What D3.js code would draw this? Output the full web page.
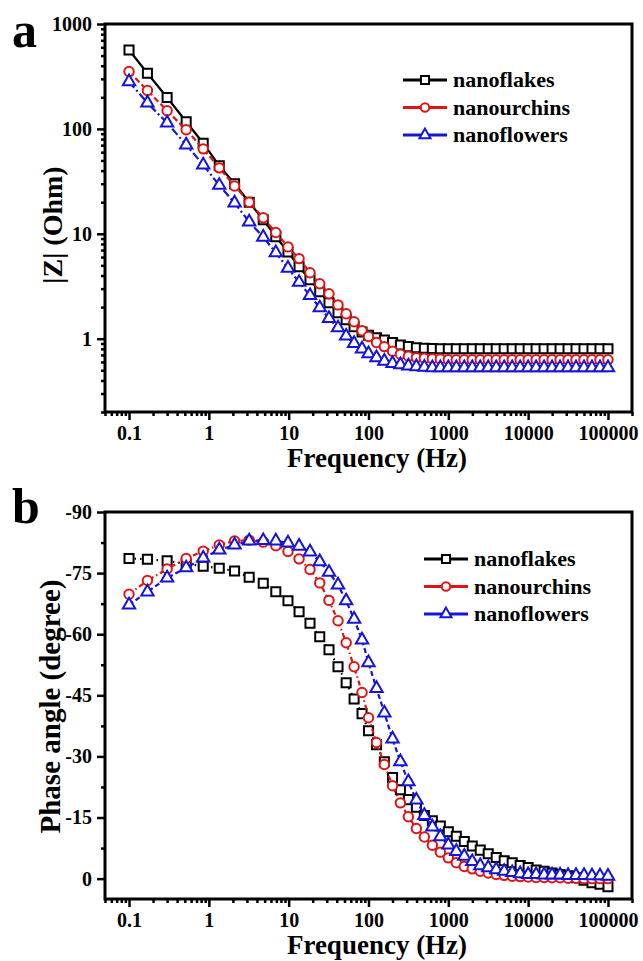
<!DOCTYPE html>
<html lang="en">
<head>
<meta charset="utf-8">
<title>Bode plots</title>
<script src="https://cdnjs.cloudflare.com/ajax/libs/d3/7.8.5/d3.min.js"></script>
<style>
  body { margin: 0; background: #fff; }
  svg text { font-family: "Liberation Serif", "Times New Roman", serif; font-weight: bold; fill: #000; }
</style>
</head>
<body>
<svg id="chart" width="643" height="961"></svg>
<script>
// frequencies (Hz), shared by every series
var freq = [0.1, 0.17, 0.3, 0.52, 0.85, 1.35, 2.1, 3.2, 4.8, 6.9, 9.8, 13.5, 18.5, 24.5, 32, 41.5, 52.5, 66, 83,
  100, 126, 158, 200, 251, 316, 398, 501, 631, 794,
  1000, 1259, 1585, 1995, 2512, 3162, 3981, 5012, 6310, 7943,
  10000, 12589, 15849, 19953, 25119, 31623, 39811, 50119, 63096, 79433, 100000];

// |Z| (Ohm)
var zFlakes = [565, 339, 199, 117, 73, 44.5, 30, 20, 13.6, 9.4, 6.7, 4.85, 3.65, 2.8, 2.2, 1.77, 1.52, 1.3, 1.16,
  1.08, 1.02, 0.97, 0.92, 0.87, 0.84, 0.82, 0.81, 0.805, 0.8,
  0.8, 0.8, 0.8, 0.8, 0.8, 0.8, 0.8, 0.8, 0.8, 0.8,
  0.8, 0.8, 0.8, 0.8, 0.8, 0.8, 0.8, 0.8, 0.8, 0.8, 0.8];
var zUrchins = [352, 232, 149, 98, 64.5, 42.5, 28.6, 20, 14.2, 10.3, 7.5, 5.8, 4.25, 3.34, 2.68, 2.1, 1.73, 1.45, 1.19,
  1.05, 0.92, 0.84, 0.76, 0.71, 0.68, 0.66, 0.65, 0.645, 0.64,
  0.63, 0.63, 0.63, 0.63, 0.63, 0.63, 0.63, 0.63, 0.63, 0.63,
  0.63, 0.63, 0.63, 0.63, 0.63, 0.63, 0.63, 0.63, 0.63, 0.63, 0.63];
var zFlowers = [282, 177, 114, 70.4, 45.4, 29, 19.7, 13, 9.3, 6.6, 4.7, 3.45, 2.58, 1.97, 1.56, 1.27, 1.06, 0.9, 0.8,
  0.72, 0.66, 0.61, 0.58, 0.565, 0.55, 0.54, 0.535, 0.53, 0.53,
  0.53, 0.53, 0.53, 0.53, 0.53, 0.53, 0.53, 0.53, 0.53, 0.53,
  0.53, 0.53, 0.53, 0.53, 0.53, 0.53, 0.53, 0.53, 0.53, 0.53, 0.53];

// phase angle (degree)
var phFlakes = [-78.6, -78.4, -78.0, -77.3, -76.7, -76.2, -75.5, -74.0, -72.5, -70.4, -68.2, -65.5, -62.7, -59.4, -56.2, -52.0, -48.1, -44.1, -40.5,
  -36.3, -32.9, -28.7, -24.8, -21.8, -19.4, -17.5, -15.5, -14.2, -12.9,
  -11.5, -10.4, -9.1, -8.0, -7.0, -6.1, -5.2, -4.4, -3.9, -3.2,
  -2.7, -2.1, -1.8, -1.4, -1.0, -0.7, -0.2, 0.4, 1.0, 1.4, 2.0];
var phUrchins = [-69.8, -73.2, -76.0, -78.6, -80.4, -81.9, -82.9, -83.1, -82.6, -81.7, -80.3, -78.5, -75.9, -72.6, -68.3, -63.3, -57.9, -52.0, -45.7,
  -39.5, -33.4, -28.0, -22.8, -18.6, -15.2, -12.3, -10.2, -8.2, -6.5,
  -5.1, -3.9, -3.0, -2.4, -1.8, -1.4, -1.0, -0.8, -0.6, -0.5,
  -0.4, -0.3, -0.3, -0.2, -0.2, -0.1, -0.1, 0, 0, 0, 0];
var phFlowers = [-67.2, -70.4, -73.8, -76.3, -78.7, -80.7, -81.9, -82.9, -83.0, -82.9, -82.4, -81.6, -80.2, -77.8, -75.2, -72.1, -68.2, -63.7, -58.6,
  -53.0, -46.7, -40.7, -34.3, -28.7, -23.8, -19.3, -15.5, -12.7, -10.3,
  -8.3, -6.7, -5.5, -4.2, -3.2, -2.7, -2.2, -1.8, -1.5, -1.2,
  -1.0, -1.0, -0.9, -0.9, -0.9, -0.8, -0.8, -0.8, -0.7, -0.7, -0.6];

var seriesNames = ["nanoflakes", "nanourchins", "nanoflowers"];
var xTicks = [0.1, 1, 10, 100, 1000, 10000, 100000];
var xTickLabels = ["0.1", "1", "10", "100", "1000", "10000", "100000"];
var zTicks = [1, 10, 100, 1000];
var zTickLabels = ["1", "10", "100", "1000"];
var phTicks = [-90, -75, -60, -45, -30, -15, 0];
var phTickLabels = ["-90", "-75", "-60", "-45", "-30", "-15", "0"];

var colors = ["#000000", "#e01414", "#1414dc"];
var shapes = [d3.symbolSquare, d3.symbolCircle, d3.symbolTriangle];
var sizes = [82, 70, 66];

var svg = d3.select("#chart");
var left = 105, right = 632;

var x = d3.scaleLog().domain([0.05, 2e5]).range([left, right]);

function drawPanel(p) {
  var g = svg.append("g");
  var y = p.y;

  // minor + major ticks, bottom
  var minorX = x.ticks().filter(function(t) { return Math.abs(Math.log10(t) - Math.round(Math.log10(t))) > 1e-6; });
  g.append("g").attr("transform", "translate(0," + p.bottom + ")")
    .call(d3.axisBottom(x).tickValues(minorX).tickSize(4).tickFormat(""))
    .call(styleAxis);
  g.append("g").attr("transform", "translate(0," + p.bottom + ")")
    .call(d3.axisBottom(x).tickValues(xTicks).tickSize(8).tickPadding(6)
      .tickFormat(function(d, i) { return xTickLabels[i]; }))
    .call(styleAxis);

  // left ticks
  g.append("g").attr("transform", "translate(" + left + ",0)")
    .call(d3.axisLeft(y).tickValues(p.minorY).tickSize(4).tickFormat(""))
    .call(styleAxis);
  g.append("g").attr("transform", "translate(" + left + ",0)")
    .call(d3.axisLeft(y).tickValues(p.yTicks).tickSize(8).tickPadding(5)
      .tickFormat(function(d, i) { return p.yLabels[i]; }))
    .call(styleAxis);

  g.append("rect")
    .attr("x", left).attr("y", p.top)
    .attr("width", right - left).attr("height", p.bottom - p.top)
    .attr("fill", "none").attr("stroke", "#000").attr("stroke-width", 3);

  // series
  p.series.forEach(function(vals, k) {
    var pts = freq.map(function(f, i) { return [f, vals[i]]; });
    g.append("path")
      .datum(pts)
      .attr("fill", "none")
      .attr("stroke", colors[k])
      .attr("stroke-width", 2.2)
      .attr("stroke-dasharray", p.dashes[k])
      .attr("d", d3.line().x(function(d) { return x(d[0]); }).y(function(d) { return y(d[1]); }));
    g.selectAll(null)
      .data(pts)
      .enter()
      .append("path")
      .attr("transform", function(d) { return "translate(" + x(d[0]) + "," + y(d[1]) + ")"; })
      .attr("d", d3.symbol().type(shapes[k]).size(sizes[k]))
      .attr("fill", "#fff")
      .attr("stroke", colors[k])
      .attr("stroke-width", 2);
  });

  // legend
  seriesNames.forEach(function(name, k) {
    var cy = p.legY + k * 27.5;
    g.append("line")
      .attr("x1", p.legX).attr("x2", p.legX + 44)
      .attr("y1", cy).attr("y2", cy)
      .attr("stroke", colors[k]).attr("stroke-width", 2.8);
    g.append("path")
      .attr("transform", "translate(" + (p.legX + 22) + "," + cy + ")")
      .attr("d", d3.symbol().type(shapes[k]).size(sizes[k] * 0.8))
      .attr("fill", "#fff")
      .attr("stroke", colors[k])
      .attr("stroke-width", 2);
    g.append("text")
      .attr("x", p.legX + 50).attr("y", cy + 7)
      .style("font-size", "22px")
      .text(name);
  });

  g.append("text")
    .attr("x", 377).attr("y", p.bottom + 55)
    .attr("text-anchor", "middle")
    .style("font-size", "27px")
    .text("Frequency (Hz)");

  g.append("text")
    .attr("transform", "translate(" + p.titleX + "," + ((p.top + p.bottom) / 2 + p.titleShift) + ") rotate(-90)")
    .attr("text-anchor", "middle")
    .style("font-size", p.titleSize + "px")
    .text(p.title);

  g.append("text")
    .attr("x", 12).attr("y", p.top + p.letterDy)
    .style("font-size", "50px")
    .text(p.letter);
}

function styleAxis(sel) {
  sel.select(".domain").remove();
  sel.selectAll(".tick line").attr("stroke", "#000").attr("stroke-width", 2.5);
  sel.selectAll(".tick text").style("font-size", "20px").attr("fill", "#000");
}

// panel a
var yA = d3.scaleLog().domain([0.2, 1000]).range([412, 24]);
var minorA = yA.ticks().filter(function(t) { return zTicks.indexOf(t) < 0; });
drawPanel({
  top: 24, bottom: 412, y: yA,
  yTicks: zTicks, yLabels: zTickLabels, minorY: minorA,
  series: [zFlakes, zUrchins, zFlowers],
  dashes: [null, "6,3", "8,3,2,3"],
  legX: 403, legY: 80,
  title: "|Z| (Ohm)", titleX: 62, titleShift: 7, titleSize: 28,
  letter: "a", letterDy: 23
});

// panel b
var yB = d3.scaleLinear().domain([5, -90]).range([899, 512]);
var minorB = phTicks.slice(1).map(function(t) { return t - 7.5; });
drawPanel({
  top: 512, bottom: 899, y: yB,
  yTicks: phTicks, yLabels: phTickLabels, minorY: minorB,
  series: [phFlakes, phUrchins, phFlowers],
  dashes: ["1.5,4", "5,3,1.5,3", "5,3"],
  legX: 424, legY: 559,
  title: "Phase angle (degree)", titleX: 60, titleShift: 1, titleSize: 29,
  letter: "b", letterDy: 11
});
</script>
</body>
</html>
